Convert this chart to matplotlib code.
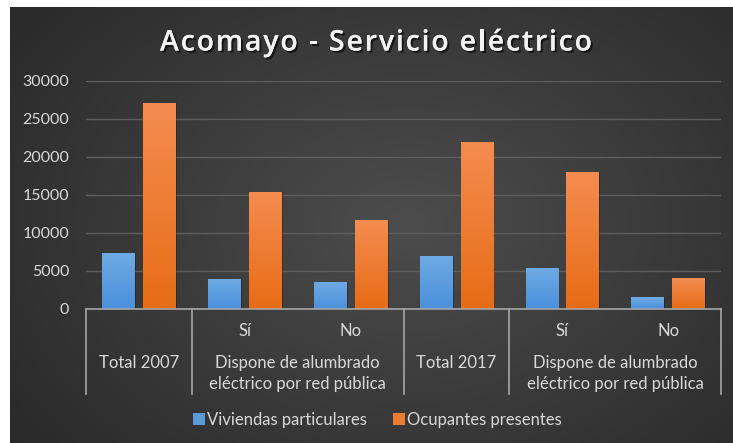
import numpy as np
import matplotlib
matplotlib.use("Agg")
import matplotlib.pyplot as plt
from matplotlib.lines import Line2D
import matplotlib.patheffects as pe

title = "Acomayo - Servicio eléctrico"
series_names = ["Viviendas particulares", "Ocupantes presentes"]
sub_labels = ["", "Sí", "No", "", "Sí", "No"]
group_labels = ["Total 2007", "Dispone de alumbrado\neléctrico por red pública",
                "Total 2017", "Dispone de alumbrado\neléctrico por red pública"]
group_spans = [(0, 0), (1, 2), (3, 3), (4, 5)]
viviendas = [7370, 3900, 3470, 6890, 5350, 1540]
ocupantes = [27090, 15440, 11650, 22020, 17960, 4060]
yticks = [0, 5000, 10000, 15000, 20000, 25000, 30000]

W, H = 733, 443
fig = plt.figure(figsize=(W / 100, H / 100), dpi=100)
fig.patch.set_facecolor("white")

# background with radial gradient
bg = fig.add_axes([10 / W, 0, 1 - 10 / W, 1 - 7 / H])
bg.set_axis_off()
yy, xx = np.mgrid[0:1:300j, 0:1:500j]
r = np.sqrt(((xx - 0.55) / 0.75) ** 2 + ((yy - 0.5) / 0.9) ** 2)
vals = np.clip(1 - r, 0, 1)
lo, hi = 0.15, 0.30
g = lo + (hi - lo) * vals
img = np.dstack([g, g, g])
bg.imshow(img, aspect="auto", extent=[0, 1, 0, 1], origin="lower")
bg.set_xlim(0, 1)
bg.set_ylim(0, 1)

font = "Lato"
txtc = "#d9d9d9"
lab_fs = 12

ax = fig.add_axes([86 / W, (H - 308.7) / H, (721 - 86) / W, (308.7 - 81) / H])
ax.patch.set_alpha(0)
x = np.arange(len(viviendas))
bw = 0.307
off = 0.193

def grad_bars(xs, vals_, color_top, color_bot, z):
    bars = ax.bar(xs, vals_, bw, color=color_bot, zorder=z, linewidth=0)
    ct = np.array(matplotlib.colors.to_rgb(color_top))
    cb = np.array(matplotlib.colors.to_rgb(color_bot))
    for b in bars:
        x0, y0 = b.get_x(), b.get_y()
        w, h = b.get_width(), b.get_height()
        # subtle shadow
        ax.bar(x0 + w / 2 + 0.012, h, w, bottom=y0, color="black", alpha=0.25,
               zorder=z - 0.5, linewidth=0)
        t = np.linspace(0, 1, 64)[:, None]
        grad = (cb[None, :] * (1 - t) + ct[None, :] * t)[:, None, :]
        im = ax.imshow(grad, aspect="auto", extent=[x0, x0 + w, y0, y0 + h],
                       origin="lower", zorder=z + 0.1)
        im.set_clip_path(b)
    return bars

b1 = grad_bars(x - off, viviendas, "#6eaae4", "#4a90dc", 3)
b2 = grad_bars(x + off, ocupantes, "#f48c50", "#e86c16", 3)

ax.set_xlim(-0.5, len(x) - 0.5)
ax.set_ylim(0, 30000)
ax.set_yticks(yticks)
ax.set_yticklabels([str(v) for v in yticks], fontfamily=font, fontsize=11.5, color=txtc)
ax.tick_params(axis="y", length=0, pad=12)
ax.set_xticks([])
ax.grid(axis="y", color="#5e5e5e", linewidth=1)
ax.set_axisbelow(True)
for s in ax.spines.values():
    s.set_visible(False)

# category axis
linec = "#a6a6a6"
ax.plot([-0.5, len(x) - 0.5], [0, 0], color=linec, lw=1.2, clip_on=False, zorder=5)
trans = ax.get_xaxis_transform()
bottom = -(394 - 308.7) / (308.7 - 81)
for sep in [-0.5, 0.5, 2.5, 3.5, 5.5]:
    ax.plot([sep, sep], [0, bottom], color=linec, lw=1.2, transform=trans, clip_on=False)

def ypos(py):
    return -(py - 308.7) / (308.7 - 81)

for i, lab in enumerate(sub_labels):
    if lab:
        ax.text(i, ypos(331), lab, transform=trans, ha="center", va="center",
                fontfamily=font, fontsize=lab_fs, color=txtc)
for (a, b), lab in zip(group_spans, group_labels):
    lines = lab.split("\n")
    pys = [363, 384]
    for ln, py in zip(lines, pys):
        ax.text((a + b) / 2, ypos(py), ln, transform=trans, ha="center", va="center",
                fontfamily=font, fontsize=lab_fs, color=txtc)

# title with letter tracking
renderer = fig.canvas.get_renderer()
tkw = dict(fontfamily="Open Sans", fontweight="semibold", fontsize=20.5)

def text_w(s):
    t = fig.text(0, 0, s + "|", **tkw)
    w1 = t.get_window_extent(renderer).width
    t.remove()
    t = fig.text(0, 0, "|", **tkw)
    w2 = t.get_window_extent(renderer).width
    t.remove()
    return w1 - w2

target_left, target_right = 160, 592
full_w = text_w(title)
n = len(title)
track = (target_right - target_left - full_w) / (n - 1)
shadow = [pe.withSimplePatchShadow(offset=(1.5, -1.5), shadow_rgbFace="black", alpha=0.6), pe.Normal()]
for i, ch in enumerate(title):
    if ch == " ":
        continue
    px = target_left + text_w(title[:i]) + i * track
    fig.text(px / W, 1 - 43 / H, ch, ha="left", va="center", color="#f2f2f2",
             path_effects=shadow, **tkw)

# legend
handles = [Line2D([], [], marker="s", linestyle="", markersize=8, markerfacecolor="#5b9bd5",
                  markeredgewidth=0),
           Line2D([], [], marker="s", linestyle="", markersize=8, markerfacecolor="#ed7d31",
                  markeredgewidth=0)]
leg = fig.legend(handles, series_names, loc="center", bbox_to_anchor=(376 / W, 1 - 420 / H),
                 ncol=2, frameon=False, prop={"family": font, "size": 12},
                 handletextpad=0.0, columnspacing=1.4, handlelength=1.0)
for t in leg.get_texts():
    t.set_color(txtc)

fig.savefig("out.png", dpi=100, facecolor=fig.get_facecolor())
